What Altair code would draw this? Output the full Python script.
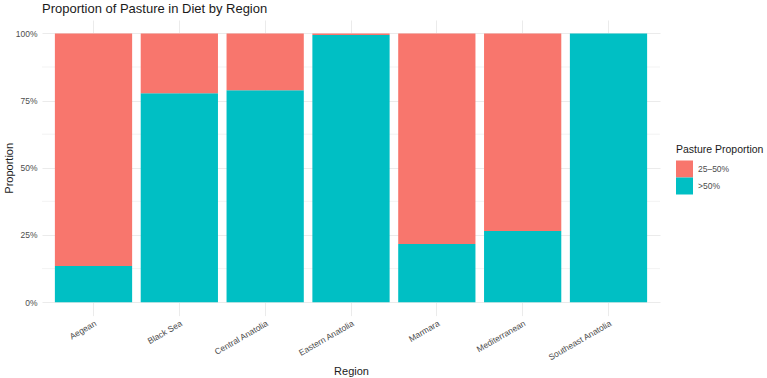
import altair as alt
import pandas as pd

# Share of farms by pasture proportion in diet, per region (percent)
regions = ["Aegean", "Black Sea", "Central Anatolia", "Eastern Anatolia",
           "Marmara", "Mediterranean", "Southeast Anatolia"]
over_50 = [13.5, 77.7, 78.9, 99.4, 21.6, 26.5, 100.0]
between_25_50 = [86.5, 22.3, 21.1, 0.6, 78.4, 73.5, 0.0]

groups = ["25–50%", ">50%"]
colors = ["#F8766D", "#00BFC4"]
major_breaks = [0, 0.25, 0.5, 0.75, 1]
minor_breaks = [0.125, 0.375, 0.625, 0.875]

rows = []
for r, hi, mid in zip(regions, over_50, between_25_50):
    rows.append({"Region": r, "group": ">50%", "share": hi / 100, "stack_order": 0})
    rows.append({"Region": r, "group": "25–50%", "share": mid / 100, "stack_order": 1})
df = pd.DataFrame(rows)

FONT = "Liberation Sans"
GRID = "#EBEBEB"

y_axis = alt.Axis(
    title="Proportion", values=major_breaks, format=".0%",
    grid=True, gridColor=GRID, gridWidth=1, ticks=False, domain=False,
    labelPadding=5, labelFontSize=8.5, labelColor="#4D4D4D",
    labelFont=FONT, titleFont=FONT, titleFontSize=11,
    titleFontWeight="normal", titleColor="#1A1A1A", titlePadding=1,
)
y_scale = alt.Scale(domain=[-0.05, 1.05], nice=False, zero=False)

minor = alt.Chart(pd.DataFrame({"v": minor_breaks})).mark_rule(
    color=GRID, strokeWidth=0.6
).encode(y=alt.Y("v:Q", scale=y_scale, axis=y_axis))

bars = alt.Chart(df).mark_bar().encode(
    x=alt.X(
        "Region:N",
        sort=regions,
        scale=alt.Scale(paddingInner=0.1, paddingOuter=0.15),
        axis=alt.Axis(
            title="Region", grid=True, gridColor=GRID, gridWidth=1,
            bandPosition=0.5, ticks=False, domain=False,
            labelAngle=-30, labelAlign="right", labelBaseline="top",
            labelPadding=3, labelFontSize=8.5, labelColor="#4D4D4D",
            labelFont=FONT, titleFont=FONT, titleFontSize=11,
            titleFontWeight="normal", titleColor="#1A1A1A", titlePadding=4,
        ),
    ),
    y=alt.Y("share:Q", stack="zero", scale=y_scale, axis=y_axis),
    color=alt.Color(
        "group:N",
        scale=alt.Scale(domain=groups, range=colors),
        legend=alt.Legend(
            title="Pasture Proportion", orient="none", legendX=634, legendY=125,
            symbolType="square", symbolSize=289, symbolStrokeWidth=0,
            symbolOpacity=1, rowPadding=0, labelOffset=5,
            titleFont=FONT, titleFontSize=10.5, titleFontWeight="normal",
            titleColor="#1A1A1A", titlePadding=5,
            labelFont=FONT, labelFontSize=8.5, labelColor="#4D4D4D",
        ),
    ),
    order=alt.Order("stack_order:Q"),
)

chart = alt.layer(minor, bars).properties(
    width=618,
    height=295.6,
    title=alt.Title(
        "Proportion of Pasture in Diet by Region", anchor="start", frame="group",
        font=FONT, fontSize=13, fontWeight="normal", color="#1A1A1A", offset=4,
    ),
    autosize=alt.AutoSizeParams(type="none"),
    padding={"left": 42, "top": 20, "right": 107, "bottom": 62},
).configure_view(stroke=None)

chart.save("out.html", embed_options={"renderer": "svg", "actions": False})
